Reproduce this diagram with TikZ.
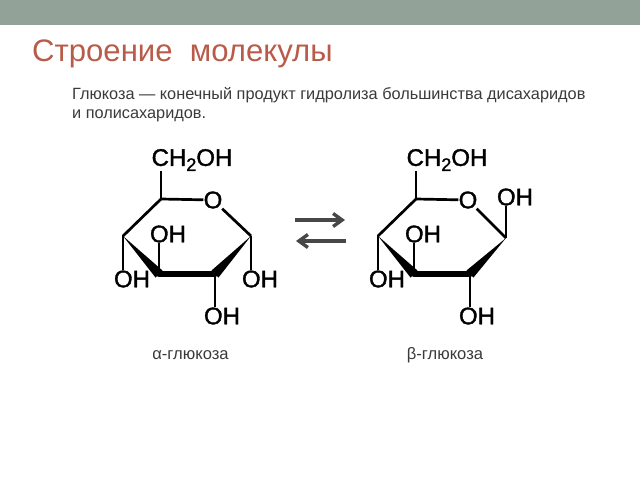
\documentclass[tikz,border=0pt]{standalone}
\usepackage{fontspec}
\setmainfont{Liberation Sans}
\newfontfamily\atomfont[FakeBold=1.5]{Liberation Sans}
\usepackage{tikz}
\usetikzlibrary{arrows.meta,calc}
\definecolor{bandgray}{HTML}{93A299}
\definecolor{titlered}{HTML}{B85C49}
\definecolor{bodygray}{HTML}{3A3A3A}
\newcommand{\subtwo}{\raisebox{-5pt}{\fontsize{18}{18}\selectfont 2}}
\begin{document}
\begin{tikzpicture}
                    [
                        x=1pt, y=-1pt,
                        atomnode/.style={inner sep=0pt, font=\atomfont\fontsize{24}{24}\selectfont, text=black},
                        textnode/.style={inner sep=0pt, anchor=base west, text=bodygray, font=\fontsize{16.3}{19}\selectfont},
                        labelnode/.style={inner sep=0pt, text=bodygray, font=\fontsize{16.6}{19}\selectfont},
                        bond/.style={draw=black, line width=2.7pt},
                        thinbond/.style={draw=black, line width=1.6pt},
                        thickbond/.style={draw=black, line width=6pt, line cap=round},
                        wedgebond/.style={fill=black},
                        eqarrow/.style={draw=black!72, line width=3.4pt, -{Straight Barb[length=9pt,width=13pt]}},
                    ]
                    \useasboundingbox (0,0) rectangle (640,480);
                    \fill[bandgray] (0,0) rectangle (640,25);

                    \node[inner sep=0pt, anchor=base west, text=titlered, font=\fontsize{31.1}{34}\selectfont] (title) at (32,61) {Строение\ \ молекулы};
                    \node[textnode] (line1) at (72,99) {Глюкоза — конечный продукт гидролиза большинства дисахаридов};
                    \node[textnode] (line2) at (72,118.5) {и полисахаридов.};

                    % alpha
                    \coordinate (c5a) at (161,199);
                    \coordinate (c1a) at (251,236);
                    \coordinate (c2a) at (215,274);
                    \coordinate (c3a) at (159,274);
                    \coordinate (c4a) at (123,236);
                    \node[atomnode] (o1a) at (213,200) {O};
                    \node[atomnode] (ch2a) at (192,160) {CH\subtwo OH};
                    \node[atomnode] (oh3a) at (168,234) {OH};
                    \node[atomnode] (oh4a) at (132,279) {OH};
                    \node[atomnode] (oh1a) at (260,279) {OH};
                    \node[atomnode] (oh2a) at (222,316) {OH};
                    \draw[bond] (c5a) -- (c5a |- ch2a.south);
                    \draw[bond] (c5a) -- (o1a);
                    \draw[bond] (o1a) -- (c1a);
                    \draw[bond, line cap=round] (c5a) -- (c4a);
                    \fill[wedgebond] (c4a) -- ($(c3a)+(-3.5,3.5)$) -- ($(c3a)+(3.5,-3.5)$) -- cycle;
                    \fill[wedgebond] (c1a) -- ($(c2a)+(-3.5,-3.5)$) -- ($(c2a)+(3.5,3.5)$) -- cycle;
                    \draw[thickbond] (c3a) -- (c2a);
                    \draw[bond] (c4a) -- (c4a |- oh4a.north);
                    \draw[bond] (c3a) -- (c3a |- oh3a.south);
                    \draw[thinbond] (c1a) -- (c1a |- oh1a.north);
                    \draw[bond] (c2a) -- (c2a |- oh2a.north);

                    % beta
                    \coordinate (c5b) at (416,199);
                    \coordinate (c1b) at (506,238);
                    \coordinate (c2b) at (470,274);
                    \coordinate (c3b) at (414,274);
                    \coordinate (c4b) at (378,236);
                    \node[atomnode] (o1b) at (468,200) {O};
                    \node[atomnode] (ch2b) at (447,160) {CH\subtwo OH};
                    \node[atomnode] (oh1b) at (515,197) {OH};
                    \node[atomnode] (oh3b) at (423,234) {OH};
                    \node[atomnode] (oh4b) at (387,279) {OH};
                    \node[atomnode] (oh2b) at (477,316) {OH};
                    \draw[bond] (c5b) -- (c5b |- ch2b.south);
                    \draw[bond] (c5b) -- (o1b);
                    \draw[bond] (o1b) -- (c1b);
                    \draw[bond, line cap=round] (c5b) -- (c4b);
                    \fill[wedgebond] (c4b) -- ($(c3b)+(-3.5,3.5)$) -- ($(c3b)+(3.5,-3.5)$) -- cycle;
                    \fill[wedgebond] (c1b) -- ($(c2b)+(-3.5,-3.5)$) -- ($(c2b)+(3.5,3.5)$) -- cycle;
                    \draw[thickbond] (c3b) -- (c2b);
                    \draw[bond] (c4b) -- (c4b |- oh4b.north);
                    \draw[bond] (c3b) -- (c3b |- oh3b.south);
                    \draw[bond] (c1b) -- (c1b |- oh1b.south);
                    \draw[thinbond] (c2b) -- (c2b |- oh2b.north);

                    % equilibrium
                    \coordinate (eq1s) at (295,220);
                    \coordinate (eq1e) at (345,220);
                    \coordinate (eq2s) at (346,241);
                    \coordinate (eq2e) at (296,241);
                    \draw[eqarrow] (eq1s) -- (eq1e);
                    \draw[eqarrow] (eq2s) -- (eq2e);

                    \node[labelnode] (alphatext) at (190.5,355) {α-глюкоза};
                    \node[labelnode] (betatext) at (445,355) {β-глюкоза};
\end{tikzpicture}
\end{document}
